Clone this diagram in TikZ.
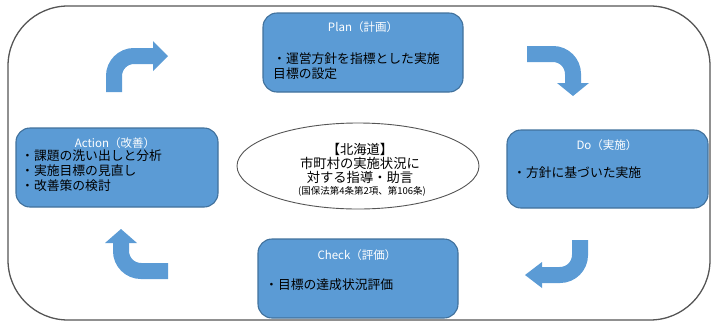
\documentclass[tikz,border=0pt]{standalone}
\usepackage{fontspec}
\setmainfont{Noto Sans CJK JP}
\usetikzlibrary{calc,shapes.geometric}
\definecolor{boxblue}{HTML}{5B9BD5}
\definecolor{boxedge}{HTML}{41719C}
\definecolor{framegray}{HTML}{555555}
\tikzset{
  pdcabox/.style={draw=boxedge, line width=1.1pt, fill=boxblue, rounded corners=14pt, inner sep=0pt},
  titletext/.style={text=white, font=\fontsize{11.5}{13}\selectfont, inner sep=0pt},
  bodytext/.style={text=black, font=\fontsize{12.8}{14.5}\selectfont, align=left, anchor=west, inner sep=0pt},
  bentshaft/.style={draw=boxblue, line width=16pt, rounded corners=20pt, line cap=butt},
  benthead/.style={fill=boxblue, draw=none},
}
\begin{document}
\begin{tikzpicture}[x=1pt,y=-1pt]
\useasboundingbox (0,0) rectangle (711,322);
% outer frame
\draw[framegray, line width=1.3pt, rounded corners=60pt] (8,6) rectangle (710,320);

% boxes
\node[pdcabox, minimum width=200pt, minimum height=79pt] (plan) at (363,52.5) {};
\node[pdcabox, minimum width=202pt, minimum height=79pt] (action) at (117,167.5) {};
\node[pdcabox, minimum width=201pt, minimum height=78pt] (do) at (607.5,169) {};
\node[pdcabox, minimum width=200pt, minimum height=79pt] (check) at (358,278.5) {};

% texts
\node[titletext] (plant) at (363,27) {Plan（計画）};
\node[bodytext] (planb) at (273,66) {・運営方針を指標とした実施\\目標の設定};

\node[titletext] (actiont) at (115,143) {Action（改善）};
\node[bodytext, font=\fontsize{12.8}{15}\selectfont] (actionb) at (21,170.5) {・課題の洗い出しと分析\\・実施目標の見直し\\・改善策の検討};

\node[titletext] (dot) at (607,145) {Do（実施）};
\node[bodytext] (dob) at (513,173) {・方針に基づいた実施};

\node[titletext] (checkt) at (357,255) {Check（評価）};
\node[bodytext] (checkb) at (265,285) {・目標の達成状況評価};

% ellipse
\node[draw=framegray, line width=0.9pt, ellipse, minimum width=242pt, minimum height=86pt, inner sep=0pt] (hq) at (358,166) {};
\node[font=\fontsize{13.3}{13.8}\selectfont, align=center, inner sep=0pt] (hqt) at (360,163.5)
  {【北海道】\\市町村の実施状況に\\対する指導・助言};
\node[font=\fontsize{9.5}{10}\selectfont, inner sep=0pt] (hqs) at (362,191) {(国保法第4条第2項、第106条)};

% bent arrows
\coordinate (a1s) at (114,92);
\coordinate (a1c) at (114,56);
\coordinate (a1e) at (153,56);
\draw[bentshaft] (a1s) -- (a1c) -- (a1e);
\fill[benthead] (153,41) -- (168,56) -- (153,71) -- cycle;

\coordinate (a2s) at (527,54);
\coordinate (a2c) at (573,54);
\coordinate (a2e) at (573,83);
\draw[bentshaft] (a2s) -- (a2c) -- (a2e);
\fill[benthead] (557,83) -- (573,96) -- (589,83) -- cycle;

\coordinate (a3s) at (168,271);
\coordinate (a3c) at (121,271);
\coordinate (a3e) at (121,243);
\draw[bentshaft] (a3s) -- (a3c) -- (a3e);
\fill[benthead] (105,243) -- (121,229) -- (137,243) -- cycle;

\coordinate (a4s) at (580,240);
\coordinate (a4c) at (580,275);
\coordinate (a4e) at (542,275);
\draw[bentshaft] (a4s) -- (a4c) -- (a4e);
\fill[benthead] (542,262) -- (525,275) -- (542,288) -- cycle;
\end{tikzpicture}
\end{document}
